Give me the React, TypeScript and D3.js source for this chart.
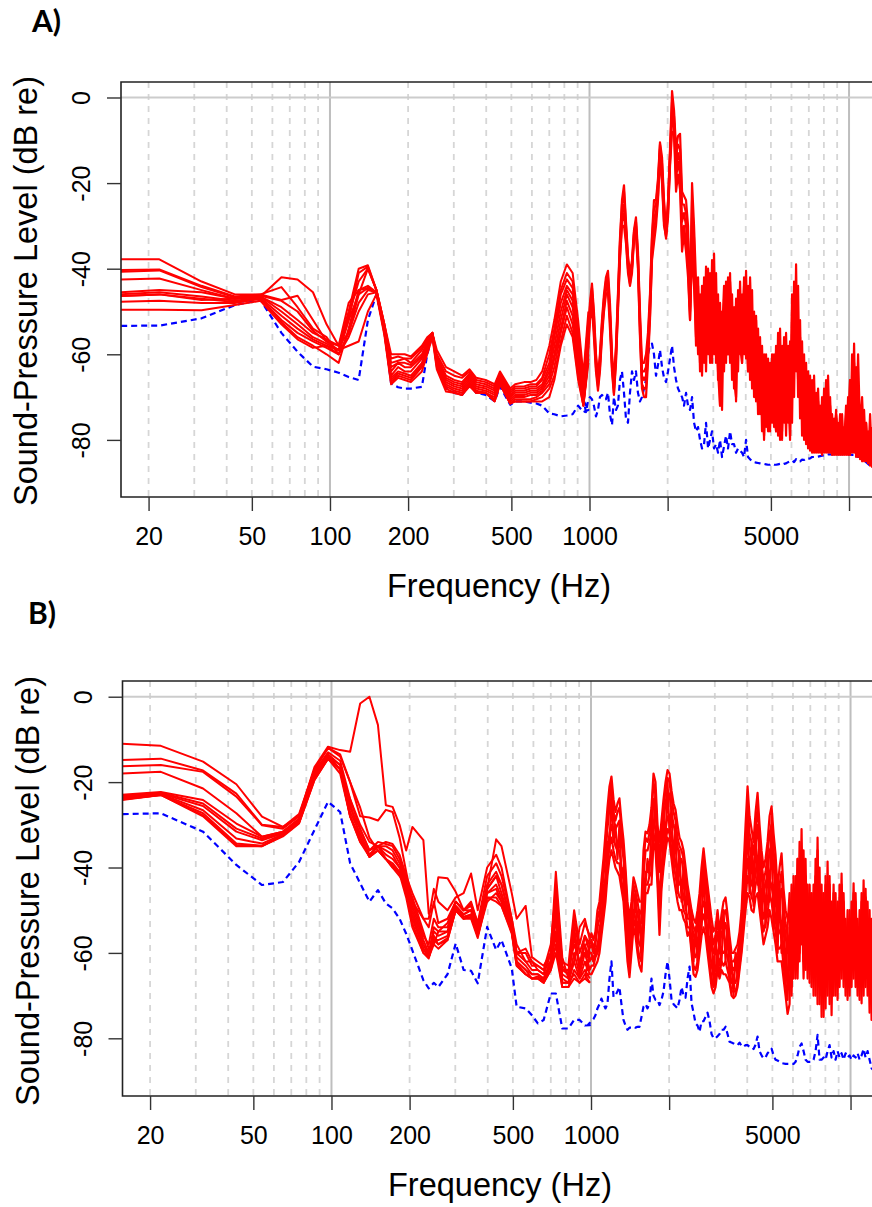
// Sound-pressure spectra, two panels on a log frequency axis
import { useEffect, useRef } from 'react';
import * as d3 from 'd3';

const gridHz = [20, 30, 40, 50, 60, 70, 80, 90, 200, 300, 400, 500, 600, 700, 800, 900, 2000, 3000, 4000, 5000, 6000, 7000, 8000, 9000];
const decadeHz = [100, 1000, 10000];
const xTicks = [20, 50, 100, 200, 500, 1000, 2000, 5000, 10000];
const xTickLabels = ['20', '50', '100', '200', '500', '1000', '', '5000', ''];
const yTicks = [0, -20, -40, -60, -80];

// frequency points below 1 kHz, where the traces can be told apart
const lowHz = [11, 22, 32, 43, 54, 65, 75, 86, 97, 108, 118, 129, 140, 151, 162, 172, 183, 194, 205, 226, 237, 248, 258, 280, 301, 323, 345, 366, 398, 431, 452, 495, 517, 560, 592, 624, 657, 700, 732, 775, 818, 861, 904, 947, 990];

// frequency points above 1 kHz
const highHz = [952, 969, 986, 1004, 1022, 1040, 1059, 1078, 1097, 1117, 1137, 1157, 1178, 1199, 1221, 1242, 1265, 1287, 1310, 1334, 1358, 1382, 1407, 1432, 1458, 1484, 1510, 1537, 1565, 1593, 1622, 1651, 1680, 1710, 1741, 1772, 1804, 1836, 1869, 1903, 1937, 1972, 2007, 2043, 2080, 2117, 2155, 2193, 2233, 2273, 2313, 2355, 2397, 2440, 2484, 2528, 2573, 2620, 2666, 2714, 2763, 2812, 2863, 2914, 2966, 3019, 3073, 3128, 3184, 3241, 3299, 3358, 3418, 3480, 3542, 3605, 3670, 3736, 3803, 3871, 3940, 4011, 4082, 4156, 4230, 4306, 4383, 4461, 4541, 4622, 4705, 4789, 4875, 4962, 5051, 5142, 5234, 5328, 5423, 5520, 5619, 5720, 5822, 5926, 6032, 6141, 6251, 6363, 6476, 6592, 6710, 6831, 6953, 7077, 7204, 7333, 7464, 7598, 7734, 7873, 8014, 8157, 8303, 8452, 8603, 8757, 8914, 9074, 9236, 9402, 9570, 9741, 9916, 10093, 10274, 10458, 10645, 10836, 11030, 11228, 11429, 11634, 11842, 12054, 12270];

// Panel A
const aLow = [
  [-46.8,-46,-47.3,-47,-46.5,-42,-42.5,-45.5,-53,-58,-55,-46,-40,-45,-53,-60,-60,-60,-60.5,-58,-56,-55,-59,-63,-64,-65,-63.5,-65.5,-66,-67,-64,-68,-67,-66.5,-66.5,-66,-64,-58,-52,-43,-39,-41,-52,-65,-50],
  [-37.8,-37.8,-43,-46,-46,-44.3,-49,-54,-56,-60,-52,-41,-39.5,-45,-53,-61,-60.5,-61,-61,-58.5,-56.5,-55,-60,-64,-65,-65.5,-64,-66,-66.5,-67.5,-64.5,-68.5,-67.5,-67.5,-67,-67,-65.5,-60,-54,-45,-41,-43,-54,-66,-52],
  [-40.4,-40.2,-44,-46.5,-46,-47.3,-46.3,-52,-57,-58,-50,-40,-39.2,-45,-53,-62,-61.5,-61,-62,-59,-56.5,-55,-60.5,-65,-66,-66.5,-64.5,-66.5,-67,-68,-65,-69,-68,-68,-67.5,-67.5,-66,-62,-55,-46,-42.5,-44.5,-55,-67,-53],
  [-41,-40.4,-44.3,-46.7,-46.3,-47.5,-50,-54.5,-57,-59,-51,-43,-40,-45,-53.5,-63,-62,-62,-62.5,-60,-57,-55,-61,-65.5,-66.5,-67,-65,-67,-67.5,-68.5,-65,-69.5,-68.5,-68.5,-68,-68,-67,-63,-56,-48,-44,-46,-56,-68,-54],
  [-42.8,-42.3,-45,-47,-46.5,-49,-52,-55,-56.5,-58,-48,-45,-44,-45.5,-54,-64,-62,-63,-63,-60.5,-57.5,-55,-61,-66,-67,-67.5,-65.5,-67.5,-68,-69,-65.5,-70,-69,-69,-68.5,-68.5,-67.5,-64,-58,-50,-45,-47.5,-58,-69,-55],
  [-46,-45,-45.5,-47,-46.5,-50,-53,-56,-57.5,-59,-52,-46,-44.5,-45.5,-54,-65,-63,-64,-64,-61,-58,-55,-61.5,-66.5,-67.5,-68,-66,-68,-68.5,-69.5,-66,-70.5,-69.5,-69.5,-69,-69,-68,-65,-60,-52,-46,-49,-60,-70,-57],
  [-46.4,-45.5,-46.5,-47.5,-46.8,-51,-54,-56.5,-58,-60,-55,-48,-45,-45.5,-54.5,-65.5,-64,-64.5,-65,-62,-58.5,-55.2,-62,-67,-68,-68.5,-66.5,-68.5,-69,-70,-66,-71,-70,-70,-69.5,-69.5,-68.5,-66,-61,-54,-47.5,-51,-61,-71,-58],
  [-46.8,-46,-47,-47.8,-47,-52,-55,-57,-58.5,-60,-56,-50,-46,-45.5,-55,-66,-64.5,-65,-65.5,-62.5,-59,-55.5,-62.5,-67.5,-68.5,-69,-67,-69,-69,-70.5,-66.5,-71.5,-70.5,-70.5,-70.5,-70,-69,-67,-63,-55,-49,-53,-63,-72,-60],
  [-48,-47.5,-48,-48,-47,-52.5,-56,-58,-60,-62,-54,-45,-44.5,-45.5,-55,-66.5,-65,-65.5,-66,-63,-59.5,-55.5,-63,-68,-69,-69.5,-67,-69,-69,-71,-67,-71.5,-71,-71,-71,-70.5,-70,-68,-65,-57,-51,-55,-65,-72,-61],
  [-49.6,-49.6,-49.7,-48.5,-47.5,-53,-56.5,-58.5,-58,-59,-58,-57,-50,-46,-55.5,-67,-65.5,-66,-66.5,-64,-60,-56,-63.5,-68.7,-69,-69.5,-67.5,-69,-69,-71,-67,-71.5,-71,-71,-71,-71,-71,-70,-66,-58,-53,-56,-66,-72,-62],
];
const aHigh = [
  [-66,-62,-56,-48,-43.5,-50,-60,-65,-60,-52,-46,-42,-40.5,-48,-60,-66,-58,-46,-33,-24,-20.5,-29,-37,-41,-38,-31,-28,-36,-50,-62,-62,-60,-55,-46,-32,-24,-24,-19,-10.5,-14,-24,-31,-24,-12,1.5,-3,-12,-9,-8.5,-22,-23,-24,-30,-48,-20,-30,
   -43,-60,-46,-65,-42,-64,-44,-62,-38,-60,-41,-66,-48,-73,-47,-62,-42,-62,-46,-68,-47,-64,-43,-62,-42,-61,-44,-66,-45,-70,-51,-72,-56,-78,-60,-77,-61,-75,-60,-77,-58,-79,-54,-78,-60,-79,-58,-80,-50,-70,-39,-70,-52,-79,-60,-81,-64,-82.5,-66,-83,-69,-83,-72,-83.5,-68,-83,-65,-83,-74,-83.5,-73,-83.5,-74,-83.5,-77,-83.5,-70,-83.5,-60,-83,-63,-84,-72,-85,-73,-85,-78,-86,-77],
  [-70,-66,-60,-52,-49,-56,-64,-68.5,-64,-56,-50,-46,-45.5,-54,-64,-69.5,-62,-50,-38,-30,-30,-34,-41,-44,-41,-33,-32,-40,-56,-68,-70,-70,-62,-52,-38,-34,-30,-24,-14,-20,-30,-32.5,-28,-16,-8,-8.5,-22,-18,-21.5,-36,-32,-36,-42,-52,-36,-44,
   -56,-44,-62,-44,-62,-39.5,-60,-41,-58,-36.5,-62,-46,-72,-50,-64,-43,-60,-41,-66,-49,-71,-45,-60,-46,-60,-40.5,-64,-46,-68,-50,-71,-54,-74,-58,-80,-60,-78,-62,-76,-60,-78,-55,-80,-58,-76,-55,-76,-57,-76,-43,-64,-44,-75,-57,-80,-62,-82,-65,-83,-65,-83,-71,-83,-70,-83,-66,-83,-70,-83.5,-75,-83.5,-76,-83.5,-74,-83.5,-74,-83.5,-66,-83,-57.5,-84,-68,-84.5,-74,-85,-76,-85.5,-74,-86.5],
  [-68,-64,-58,-50,-46,-53,-62,-66,-62,-54,-48,-44,-43,-51,-62,-68,-60,-48,-35,-27,-25,-31,-39,-42.5,-39.5,-32,-30,-38,-53,-65,-66,-65,-58,-49,-35,-28,-27,-21,-12,-17,-27,-32,-26,-14,-3,-6,-17,-13,-15,-29,-27,-30,-36,-50,-28,-37,
   -50,-52,-55,-55,-53,-50,-52,-54,-48,-50,-56,-54,-60,-62,-56,-54,-50,-48,-56,-58,-60,-52,-50,-54,-50,-52,-56,-55,-58,-60,-62,-64,-66,-68,-72,-68,-71,-68,-70,-68,-70,-66,-68,-70,-70,-66,-70,-68,-64,-58,-50,-56,-65,-68,-72,-72,-74,-74,-76,-75,-78,-77,-78,-74,-75,-78,-80,-76,-80,-80,-80,-79,-81,-80,-81,-78,-75,-72,-68,-74,-77,-80,-80,-82,-82,-84,-84,-82,-86],
  [-69,-65,-59,-51,-47,-54,-63,-67.5,-63,-55,-49,-45,-44,-52,-63,-69,-61,-49,-37,-29,-27,-33,-40,-43.5,-40,-33,-31,-39,-55,-67,-68,-68,-60,-51,-37,-31,-28,-23,-13,-19,-29,-33,-27,-15,-5,-7,-19,-15,-18,-33,-30,-34,-40,-52,-33,-40,
   -58,-48,-60,-50,-56,-46,-58,-47,-52,-44,-58,-50,-64,-56,-60,-50,-56,-46,-60,-54,-64,-50,-56,-50,-54,-47,-60,-52,-62,-56,-66,-60,-70,-64,-75,-66,-74,-68,-72,-66,-74,-62,-72,-63,-72,-62,-72,-62,-70,-52,-60,-52,-70,-64,-76,-68,-78,-72,-79,-72,-79,-76,-80,-75,-80,-72,-78,-72,-80,-78,-81,-78,-81,-78,-81,-72,-78,-66,-78,-62,-78,-72,-80,-78,-82,-80,-83,-78,-85],
  [-67,-63,-57,-49,-44.5,-51,-61,-66.5,-61,-53,-47,-43,-42,-50,-61,-67,-59,-47,-34,-25,-22,-30,-38,-42,-39,-31.5,-29,-37,-52,-64,-64,-63,-57,-47,-33,-26,-25,-20,-11,-15.5,-25,-31.5,-25,-13,-1,-4.5,-14,-11,-12,-25,-25,-27,-33,-49,-24,-33,
   -52,-42,-64,-47,-50,-60,-40,-55,-62,-44,-50,-64,-72,-56,-44,-55,-60,-43,-52,-66,-70,-48,-58,-62,-44,-50,-64,-42,-58,-68,-52,-74,-62,-70,-79,-62,-66,-78,-64,-72,-78,-60,-68,-80,-56,-74,-66,-79,-46,-60,-44,-66,-56,-74,-78,-66,-80,-70,-82,-70,-80,-68,-82,-74,-82,-76,-70,-82,-78,-82,-74,-80,-82,-78,-81,-82,-76,-82,-74,-64,-80,-60,-78,-70,-82,-76,-84,-82,-80],
];
const aRefLow = [-53.4,-53.3,-51.6,-48.5,-47.3,-55,-59.4,-62.9,-63.5,-64.3,-65.3,-66,-52,-46,-54,-66.8,-67.7,-68,-68,-67.6,-60,-55.5,-60,-68,-69,-69.5,-67,-69,-69.5,-71,-67.5,-71.8,-71,-71,-71.3,-71.5,-72,-73.8,-74,-74.5,-74.3,-74,-72,-73.5,-73];
const aRefHigh = [-71,-73.5,-71,-70,-70.5,-72,-74.5,-73,-70,-69.5,-70,-70.5,-69,-74,-76.5,-70,-73,-72,-66,-64,-69,-75,-76,-69,-64,-66,-64,-69,-71,-70,-68,-66,-60,-58,-57.5,-60,-65,-62.5,-59,-63,-65.5,-66.5,-64,-61,-58,-63,-66,-68,-69,-70,-72,-69,-72,-73,-70,-76,-78,-77,-80,-82,-81,-76,-82,-80,-78,-82,-81,-83,-80,-84,-81.5,-79,-82,-78,-81,-81,-83,-82,-82.5,-83,-84,-80,-84,-84.5,-85,-85.2,-85.3,-85.4,-85.5,-85.6,-85.6,-85.7,-85.8,-85.8,-85.6,-85.8,-85.8,-85.7,-85.6,-85.8,-85.6,-85.5,-85.2,-85,-84.8,-85.2,-84.5,-85,-85,-84.6,-84.7,-84.3,-84.4,-84.3,-84,-84,-84,-83.9,-83.8,-83.7,-83.6,-83.5,-83.4,-83.4,-83.4,-83.4,-83.3,-83.3,-83.3,-83.3,-83.4,-83.4,-83.4,-83.4,-83.5,-83.5,-83.7,-84,-84,-84.5,-84.8,-85.2,-85.6,-86,-86.4];

// Panel B
const bLow = [
  [-10.5,-11.5,-15.2,-20.5,-28.1,-30.5,-27.5,-17,-12,-13.5,-20,-26,-33,-36,-38,-40,-42,-44,-47,-55,-59,-58,-55,-53,-48,-50,-50,-54,-45,-42,-44,-54,-60,-60,-63,-63,-64,-62,-52,-64,-64,-58,-62,-60,-64],
  [-15.1,-14.5,-17.3,-22.7,-30,-30.5,-28,-16.5,-11.7,-12.5,-12.9,-1.6,0,-6.6,-25.4,-25.8,-30,-36,-30.5,-33.6,-50.8,-49,-42.3,-42.5,-45.7,-50,-48.5,-53,-45,-33.4,-35,-46,-52,-49,-61,-62,-63,-60,-41,-61,-66,-62,-54,-52,-57],
  [-16.6,-16,-17.6,-23.4,-30.1,-30.9,-28,-17,-12,-14,-20,-28,-28.3,-29,-26.5,-27,-33,-41,-48,-52,-52,-45,-48,-50,-47,-46,-41.4,-50,-40,-37,-40,-52,-58,-62,-62,-64,-65,-60,-44,-63,-65,-52,-60,-56,-58],
  [-18.4,-17.6,-21.5,-27.3,-32.8,-31.6,-28.5,-17.5,-13,-15,-24,-30,-34,-35,-34,-34.5,-37,-42,-46,-52,-54,-48,-53,-52,-48,-50,-48,-53,-42,-39,-42,-52,-60,-59,-62,-63,-64,-58,-46,-62,-63,-50,-58,-53,-56],
  [-23.6,-22.3,-24.2,-29.7,-32.8,-31.6,-28.8,-18,-13.5,-16,-26,-31,-36,-34,-34.5,-35,-38,-43,-48,-56,-58,-52,-54,-54,-48,-50,-49,-54,-44,-41,-44,-53,-60,-62,-64,-64,-65,-60,-48,-64,-65,-54,-63,-56,-60],
  [-24,-22.5,-25,-30.9,-33.2,-31.9,-29,-18,-14,-16,-27,-32,-37,-35,-35,-36,-39,-43.5,-49,-57,-60,-54,-55,-55,-49,-51,-50,-55,-45,-42,-46,-54,-61,-63,-65,-65,-66,-62,-50,-65,-66,-56,-64,-58,-62],
  [-24.4,-22.7,-25.6,-31.6,-33.6,-32,-29,-18.5,-14,-17,-28,-33,-37.5,-35,-36,-37,-40,-44,-50,-58,-60.5,-55,-56,-55,-49,-51,-50,-55,-46,-44,-47,-54,-62,-64,-65,-65,-66,-62,-52,-66,-67,-60,-65,-60,-64],
  [-24.8,-22.8,-26.6,-33.2,-34.4,-32.2,-29.2,-19,-14.5,-17,-28,-34,-37,-35,-37,-38,-40,-45,-52,-59,-61,-57,-57,-56,-49.5,-51.5,-51,-56,-46,-45,-48,-55,-62,-64,-66,-65.5,-66.5,-63,-55,-67,-67,-62,-66,-62,-65],
  [-25.2,-23,-27.3,-34.4,-34.9,-32.4,-29.5,-19.5,-14.5,-17,-25,-33,-37.5,-36,-38,-39,-41,-46,-53,-60,-61.3,-57,-58,-56.5,-50,-52,-51.5,-56,-47,-47,-49,-55,-62.5,-65,-66,-66,-67,-64,-58,-68,-68,-64,-66,-64,-66],
  [-25.4,-23,-28,-35,-35,-32.7,-29.7,-19.5,-14.5,-18,-28,-34,-37.5,-36,-38,-39.5,-41.5,-47,-54,-60,-61,-58,-59,-57,-50,-52,-52,-56.5,-47,-48,-49,-55.5,-63,-65,-66,-66,-67,-64,-60,-68,-68,-66,-67,-66,-67],
  [-25,-23,-27.8,-34.7,-35,-32.5,-29.5,-19,-14,-17,-24,-31,-36,-35,-38,-40,-41,-45,-51,-59,-61,-56,-58,-57,-50,-52,-51,-56,-48,-46,-48,-55,-63,-65,-66,-66,-67,-62,-56,-67,-67,-65,-67,-65,-67],
];
const bHigh = [
  [-58,-58,-57,-55.4,-57,-55,-50,-48,-43,-38,-32,-26,-21,-18.7,-24,-27,-25,-23.8,-29,-33.5,-40,-48,-52,-48,-42.3,-44,-46,-48,-48,-36,-31.6,-32,-30,-26,-18,-20,-30,-34,-29,-24,-20,-17.2,-18,-22,-25,-26.5,-30,-33,-34,-36,-39.8,-44,-47,-50,-52,-53,-50,-46,-40,-35.5,-40,-44,-48,-52,-55,-54,-50,-55,-51,-48,-47,-51,-56,-60,-60,-59,-58,-55,-50,-40,-30,-21,-28,-31,-34,-27,-22.5,-30,-36,-40,-38,-34,-28,-25.7,-32,-37,-45,-40,-36.7,-45,-50,-52,
   -50,-70,-46,-64,-38,-60,-31,-62,-38,-66,-44,-68,-44,-70,-33,-72,-44,-75,-42,-70,-42,-74.6,-44,-70,-48,-68,-41.4,-68,-52,-71,-50,-68,-43.7,-68,-52,-71,-46,-70,-45,-70,-50,-75.7,-54],
  [-66,-65,-65,-65,-64,-63,-62,-60,-56,-52,-48,-42,-38,-36,-38,-40,-41,-42,-45,-48,-55,-62,-65.7,-60,-54,-56,-60,-63,-64.4,-56,-46,-46,-44,-44,-34,-36,-44,-55.8,-45,-40,-36,-33,-34,-38,-42,-45,-48,-50,-50,-52,-53,-56,-55,-60,-65,-65.6,-64,-60,-56,-54,-56,-60,-64,-68,-69.5,-68,-64,-66,-64,-65,-65,-66,-67,-70,-70.6,-70,-68,-64,-60,-55,-50,-46,-47,-50,-50.5,-47,-46,-50,-54,-58,-56,-54,-50,-52,-55,-58,-62,-62,-62,-66,-70,-74.3,
   -72,-48,-66,-42,-62,-34,-58,-36,-64,-44,-67,-46,-70,-38,-72,-40,-75,-46,-73,-38.6,-72,-48,-70,-46,-71,-44,-66,-48,-70,-50,-70,-48,-66,-48,-70,-50,-71.8,-43,-68,-48,-74,-52,-72],
  [-60,-60,-59,-58,-60,-58,-54,-52,-47,-42,-37,-31,-26,-24,-28,-31,-30,-29,-34,-38,-44,-52,-57,-52,-46,-48,-51,-53,-53,-42,-36,-36,-34,-32,-24,-26,-34,-41,-34,-29,-25,-22,-23,-27,-30,-32,-35,-38,-38,-41,-44,-48,-49,-53,-56,-57,-54,-50,-45,-42,-45,-49,-53,-57,-60,-59,-55,-59,-55,-55,-53,-56,-60,-63,-64,-63,-62,-58,-54,-46,-38,-30,-35,-38,-40,-35,-30,-37,-42,-46,-44,-41,-36,-35,-40,-44,-50,-47,-45,-52,-56,-60,
   -60,-56,-54,-52,-48,-44,-42,-50,-52,-56,-54,-60,-56,-52,-44,-60,-56,-64,-56,-50,-56,-60,-58,-60,-60,-58,-52,-58,-62,-62,-60,-56,-52,-58,-62,-60,-56,-58,-56,-60,-62,-66,-62],
  [-63,-62,-62,-61,-62,-60,-58,-56,-51,-47,-42,-36,-32,-30,-33,-35,-36,-36,-40,-43,-50,-57,-61,-56,-50,-52,-56,-58,-59,-49,-41,-41,-39,-38,-29,-31,-39,-48,-40,-35,-31,-28,-29,-33,-36,-39,-42,-44,-44,-47,-49,-52,-52,-57,-60,-61,-59,-55,-50,-48,-50,-55,-59,-63,-65,-64,-60,-63,-60,-60,-59,-61,-64,-67,-67,-67,-65,-61,-57,-50,-44,-38,-41,-44,-45,-41,-38,-43,-48,-52,-50,-48,-43,-44,-48,-52,-56,-55,-54,-59,-64,-67,
   -54,-62,-50,-58,-44,-54,-40,-56,-46,-60,-50,-62,-52,-60,-42,-64,-52,-68,-50,-64,-50,-66,-54,-62,-56,-60,-48,-62,-58,-64,-56,-60,-50,-62,-58,-64,-52,-64,-50,-62,-56,-70,-58],
  [-62,-64,-60,-60,-62,-59,-60,-54,-53,-44,-44,-34,-36,-22,-34,-30,-38,-30,-42,-40,-52,-50,-63,-50,-52,-46,-58,-50,-62,-44,-44,-38,-42,-30,-32,-22,-40,-36,-44,-28,-34,-20,-32,-26,-40,-30,-46,-36,-48,-40,
   -50,-46,-52,-50,-62,-54,-62,-48,-54,-38,-54,-46,-62,-54,-68,-56,-62,-58,-62,-50,-62,-54,-66,-62,-70,-60,-66,-57,-58,-44,-48,-24,-46,-34,-49,-30,-44,-33,-52,-42,-54,-38,-48,-28,-54,-40,-60,-44,-60,-48,-68,-54,
   -46,-64,-42,-60,-38,-62,-36,-54,-42,-60,-46,-56,-46,-64,-36,-68,-46,-70,-44,-58,-44,-68,-46,-64,-50,-64,-44,-64,-54,-66,-52,-64,-46,-64,-54,-68,-48,-66,-47,-66,-52,-72,-56],
  [-59,-61,-58,-57,-59,-57,-52,-50,-45,-40,-34,-28,-24,-20,-27,-29,-27,-26,-31,-36,-42,-50,-55,-50,-44,-46,-48,-51,-50,-39,-33,-34,-32,-28,-20,-23,-32,-38,-31,-26,-22,-19,-20,-24,-27,-29,-33,-35,-36,-38,-42,-46,-48,-52,-54,-55,-52,-48,-43,-38,-43,-46,-51,-55,-58,-56,-52,-57,-53,-51,-50,-53,-58,-62,-62,-61,-60,-57,-52,-43,-34,-25,-32,-34,-37,-31,-26,-33,-39,-43,-41,-37,-32,-30,-36,-41,-48,-44,-41,-49,-53,-56,
   -64,-44,-56,-48,-66,-42,-50,-38,-60,-48,-62,-54,-66,-42,-64,-44,-70,-54,-68,-44,-60,-52,-66,-50,-66,-48,-60,-46,-66,-56,-64,-52,-60,-46,-66,-54,-68,-46,-62,-52,-70,-56,-68],
  [-65,-63,-64,-63,-63,-61,-60,-58,-54,-50,-45,-40,-35,-33,-36,-38,-39,-39,-43,-46,-53,-60,-64,-58,-52,-54,-58,-61,-62,-53,-44,-44,-42,-41,-32,-34,-42,-52,-43,-38,-34,-31,-32,-36,-39,-42,-45,-47,-47,-50,-51,-54,-54,-59,-63,-64,-62,-58,-53,-51,-53,-58,-62,-66,-68,-66,-62,-65,-62,-63,-62,-64,-66,-69,-69,-69,-67,-63,-59,-53,-47,-42,-44,-47,-48,-44,-42,-47,-51,-55,-53,-51,-46,-48,-52,-55,-59,-59,-58,-63,-67,-71,
   -56,-68,-48,-66,-54,-52,-44,-66,-50,-64,-58,-60,-62,-52,-58,-50,-62,-56,-60,-46,-66,-58,-64,-56,-68,-54,-62,-56,-64,-60,-68,-58,-62,-56,-68,-60,-62,-52,-66,-58,-66,-62,-70],
];
const bRefLow = [-27.7,-27.3,-31.6,-39.4,-44.1,-43.4,-38.7,-31.2,-24.6,-27,-39,-43.7,-48,-45.3,-48.4,-49.6,-52,-55.5,-59.4,-66.4,-68.3,-67,-68,-65,-57.8,-64,-64.2,-67.1,-53.9,-59.3,-57,-63.6,-72.6,-73,-74.6,-76.5,-75.7,-69.5,-69.5,-77.7,-77.7,-75.7,-75.7,-77,-76.9];
const bRefHigh = [-77,-77,-76.5,-76,-75.5,-74.6,-73,-72,-70.7,-72,-73,-72,-66,-62,-70.3,-70,-69,-68,-72,-75.7,-77,-78,-77.5,-77.5,-77.3,-77.5,-77.3,-77.3,-75,-72.6,-72,-73,-71.8,-66,-70,-71,-71,-72.2,-71,-69,-65,-62,-66,-71,-72,-72.5,-73,-71,-68,-70,-70.5,-66,-63.2,-71.8,-74,-76.5,-77,-78.5,-76,-76,-75,-74,-76,-79,-80,-80,-79.5,-79,-78,-78,-77.3,-79,-80.8,-81,-81.2,-81.5,-81.6,-81,-81.8,-82,-81.6,-81.6,-82,-82,-82.5,-81.5,-79.6,-83,-84,-84.7,-84.5,-83.5,-83,-82.4,-84,-85,-85.2,-85.5,-85.8,-85.9,-86,-86,-86,-86,-86,-85.5,-84,-82,-81.2,-83,-85,-85.5,-85.5,-85.5,-85,-83,-79.2,-85,-85,-84.5,-85,-83,-81.6,-84.5,-83,-85,-83,-84.5,-83.5,-85,-83.5,-84.5,-84,-85,-84,-84.5,-83.5,-85,-84,-82.5,-84.5,-83,-85,-87,-87.5];

const FONT = '"Liberation Sans", Arial, sans-serif';

interface PanelProps {
  id: string;
  letter: string;
  letterX: number;
  letterY: number;
  left: number;
  right: number;
  top: number;
  bottom: number;
  yTop: number;
  yBottom: number;
  labelX: number;
  labelY: number;
  low: number[][];
  high: number[][];
  refLow: number[];
  refHigh: number[];
}

function drawPanel(svg: d3.Selection<SVGSVGElement, unknown, null, undefined>, p: PanelProps) {
  const x = d3.scaleLog().domain([15.66, 12260]).range([p.left, p.right]);
  const y = d3.scaleLinear().domain([p.yTop, p.yBottom]).range([p.top, p.bottom]);

  svg.append('clipPath').attr('id', `clip-${p.id}`)
    .append('rect')
    .attr('x', p.left).attr('y', p.top)
    .attr('width', p.right - p.left).attr('height', p.bottom - p.top);

  // Grid
  svg.append('g').selectAll('line').data(gridHz).enter().append('line')
    .attr('x1', d => x(d)).attr('x2', d => x(d))
    .attr('y1', p.top).attr('y2', p.bottom)
    .attr('stroke', '#d6d6d6').attr('stroke-width', 1.8).attr('stroke-dasharray', '6 6');
  svg.append('g').selectAll('line').data(decadeHz).enter().append('line')
    .attr('x1', d => x(d)).attr('x2', d => x(d))
    .attr('y1', p.top).attr('y2', p.bottom)
    .attr('stroke', '#bebebe').attr('stroke-width', 2);
  svg.append('line')
    .attr('x1', p.left).attr('x2', p.right)
    .attr('y1', y(0)).attr('y2', y(0))
    .attr('stroke', '#cccccc').attr('stroke-width', 2);

  const line = (hz: number[]) => d3.line<number>()
    .x((_, i) => x(hz[i]))
    .y(d => y(d));

  const g = svg.append('g').attr('clip-path', `url(#clip-${p.id})`).attr('fill', 'none').attr('stroke-linejoin', 'round');

  // Reference trace sits under the red ones
  g.append('path')
    .attr('d', line([...lowHz, ...highHz])([...p.refLow, ...p.refHigh]))
    .attr('stroke', '#0000ff').attr('stroke-width', 2.2).attr('stroke-dasharray', '6 4');

  p.low.forEach(v => {
    g.append('path').attr('d', line(lowHz)(v)).attr('stroke', '#ff0000').attr('stroke-width', 2);
  });
  p.high.forEach(v => {
    g.append('path').attr('d', line(highHz)(v)).attr('stroke', '#ff0000').attr('stroke-width', 2.2);
  });

  // Box, open on the right where the figure was cropped
  svg.append('path')
    .attr('d', `M${p.right},${p.top}H${p.left}V${p.bottom}H${p.right}`)
    .attr('fill', 'none').attr('stroke', '#222').attr('stroke-width', 1.6);

  // X axis
  const xAxis = d3.axisBottom(x)
    .tickValues(xTicks)
    .tickSize(14)
    .tickFormat((_, i) => xTickLabels[i]);
  const gx = svg.append('g').attr('transform', `translate(0,${p.bottom})`).call(xAxis);
  gx.select('.domain').remove();
  gx.selectAll('line').attr('stroke', '#333').attr('stroke-width', 1.4);
  gx.selectAll('text')
    .attr('y', 48).attr('dy', 0)
    .attr('fill', '#000')
    .style('font-family', FONT).style('font-size', '25px');

  // Y axis with labels turned sideways
  const yAxis = d3.axisLeft(y).tickValues(yTicks).tickSize(14).tickFormat(d => String(d));
  const gy = svg.append('g').attr('transform', `translate(${p.left},0)`).call(yAxis);
  gy.select('.domain').remove();
  gy.selectAll('line').attr('stroke', '#333').attr('stroke-width', 1.4);
  gy.selectAll('text')
    .attr('x', 0).attr('dy', 0)
    .attr('transform', 'translate(-31,0) rotate(-90)')
    .attr('text-anchor', 'middle')
    .attr('fill', '#000')
    .style('font-family', FONT).style('font-size', '25px');

  // Axis labels
  svg.append('text')
    .attr('x', p.labelX)
    .attr('y', p.bottom + 100)
    .attr('text-anchor', 'middle')
    .style('font-family', FONT).style('font-size', '32.5px')
    .text('Frequency (Hz)');

  svg.append('text')
    .attr('transform', `translate(${p.left - 84},${p.labelY}) rotate(-90)`)
    .attr('text-anchor', 'middle')
    .style('font-family', FONT).style('font-size', '32.5px')
    .text('Sound-Pressure Level (dB re)');

  svg.append('text')
    .attr('x', p.letterX).attr('y', p.letterY)
    .style('font-family', 'Lato, "Open Sans", sans-serif')
    .style('font-size', '30px').style('font-weight', 'bold')
    .text(p.letter);
}

export default function App() {
  const svgRef = useRef<SVGSVGElement>(null);

  useEffect(() => {
    if (!svgRef.current) return;
    const svg = d3.select(svgRef.current);
    svg.selectAll('*').remove();

    drawPanel(svg, {
      id: 'a', letter: 'A)', letterX: 32, letterY: 32,
      left: 121, right: 872, top: 82, bottom: 497,
      yTop: 3.62, yBottom: -93.34, labelX: 499, labelY: 291,
      low: aLow, high: aHigh, refLow: aRefLow, refHigh: aRefHigh,
    });
    drawPanel(svg, {
      id: 'b', letter: 'B)', letterX: 28, letterY: 624,
      left: 122.5, right: 873.5, top: 681, bottom: 1096,
      yTop: 3.68, yBottom: -93.51, labelX: 500, labelY: 891,
      low: bLow, high: bHigh, refLow: bRefLow, refHigh: bRefHigh,
    });
  }, []);

  return (
    <svg
      ref={svgRef}
      width={872}
      height={1207}
      viewBox="0 0 872 1207"
      style={{ position: 'absolute', left: 0, top: 0, background: '#fff' }}
    />
  );
}
